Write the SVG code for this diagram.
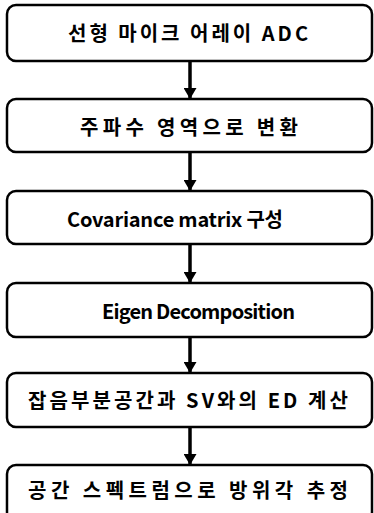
<svg xmlns="http://www.w3.org/2000/svg" width="374" height="513" viewBox="0 0 374 513">
<defs>
<style>
.box{fill:#fff;stroke:#000;stroke-width:2.5}
.lbl{font-family:"Noto Sans CJK KR","DejaVu Sans",sans-serif;font-size:20px;font-weight:bold;fill:#000;dominant-baseline:central}
.conn{stroke:#000;stroke-width:3.5;fill:none}
</style>
<marker id="ah" markerWidth="11" markerHeight="13" refX="11" refY="6.5" orient="auto" markerUnits="userSpaceOnUse" viewBox="0 0 11 13">
<path d="M0,0 L11,6.5 L0,13 Z" fill="#000"/>
</marker>
</defs>
<rect width="374" height="513" fill="#fff"/>
<g id="connectors">
<line class="conn" x1="190" y1="61" x2="190" y2="99" marker-end="url(#ah)"/>
<line class="conn" x1="190" y1="152" x2="190" y2="191" marker-end="url(#ah)"/>
<line class="conn" x1="190" y1="244" x2="190" y2="283" marker-end="url(#ah)"/>
<line class="conn" x1="190" y1="337" x2="190" y2="373" marker-end="url(#ah)"/>
<line class="conn" x1="190" y1="427" x2="190" y2="465" marker-end="url(#ah)"/>
</g>
<g id="n1"><rect class="box" x="7" y="5" width="365" height="56" rx="9"/><text class="lbl" x="68" y="32" textLength="240" lengthAdjust="spacing">선형 마이크 어레이 ADC</text></g>
<g id="n2"><rect class="box" x="7" y="99" width="365" height="53" rx="9"/><text class="lbl" x="80" y="126" textLength="218" lengthAdjust="spacing">주파수 영역으로 변환</text></g>
<g id="n3"><rect class="box" x="7" y="191" width="365" height="53" rx="9"/><text class="lbl" x="67" y="218" textLength="216" lengthAdjust="spacing">Covariance matrix 구성</text></g>
<g id="n4"><rect class="box" x="7" y="283" width="365" height="54" rx="9"/><text class="lbl" x="102" y="310" textLength="193" lengthAdjust="spacing">Eigen Decomposition</text></g>
<g id="n5"><rect class="box" x="7" y="373" width="365" height="54" rx="9"/><text class="lbl" x="28" y="399" textLength="320" lengthAdjust="spacing">잡음부분공간과 SV와의 ED 계산</text></g>
<g id="n6"><rect class="box" x="7" y="465" width="365" height="56" rx="9"/><text class="lbl" x="28" y="489" textLength="320" lengthAdjust="spacing">공간 스펙트럼으로 방위각 추정</text></g>
</svg>
